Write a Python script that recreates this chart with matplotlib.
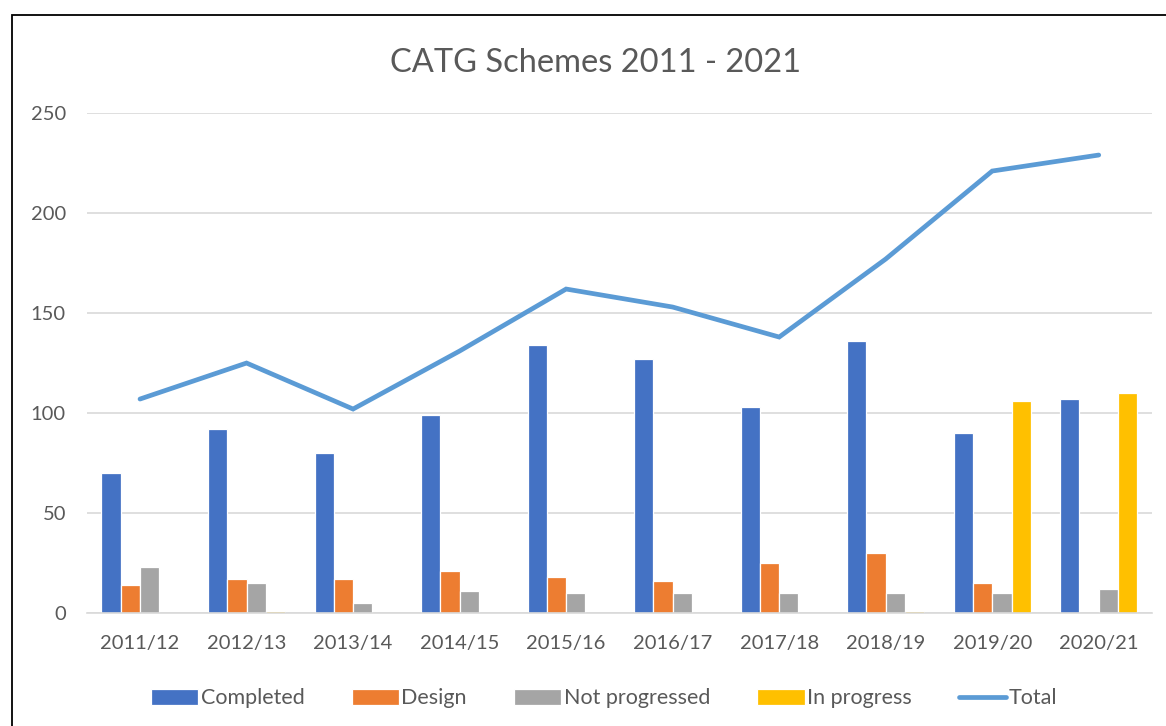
import numpy as np
import matplotlib
matplotlib.use("Agg")
import matplotlib.pyplot as plt
from matplotlib.patches import Rectangle

plt.rcParams['font.family'] = ['Lato', 'DejaVu Sans']

years = ['2011/12', '2012/13', '2013/14', '2014/15', '2015/16',
         '2016/17', '2017/18', '2018/19', '2019/20', '2020/21']
completed = [70, 92, 80, 99, 134, 127, 103, 136, 90, 107]
design = [14, 17, 17, 21, 18, 16, 25, 30, 15, 0]
not_progressed = [23, 15, 5, 11, 10, 10, 10, 10, 10, 12]
in_progress = [0, 1, 0, 0, 0, 0, 0, 1, 106, 110]
total = [107, 125, 102, 131, 162, 153, 138, 177, 221, 229]

series = [('Completed', completed, '#4472c4'),
          ('Design', design, '#ed7d31'),
          ('Not progressed', not_progressed, '#a5a5a5'),
          ('In progress', in_progress, '#ffc000')]

text_col = '#595959'
grid_col = '#d9d9d9'

fig = plt.figure(figsize=(11.66, 7.26), dpi=100)
ax = fig.add_axes([0.0744, 0.1556, 0.9136, 0.6887])

x = np.arange(len(years))
pitch = 0.181
handles = []
for i, (name, vals, col) in enumerate(series):
    b = ax.bar(x + (i - 1.5) * pitch, vals, width=pitch, color=col,
               edgecolor='white', linewidth=0.9, label=name, zorder=2)
    handles.append(b)

ln, = ax.plot(x, total, color='#5b9bd5', linewidth=3.4, solid_capstyle='round',
              solid_joinstyle='miter', label='Total', zorder=3)
handles.append(ln)

ax.set_xlim(-0.5, len(years) - 0.5)
ax.set_ylim(0, 250)
ax.set_yticks(range(0, 251, 50))
ax.set_xticks(x)
ax.set_xticklabels(years)
ax.tick_params(length=0, labelsize=14.5, colors=text_col)
ax.tick_params(axis='y', pad=15)
ax.tick_params(axis='x', pad=16)
ax.yaxis.grid(True, color=grid_col, linewidth=1.2, zorder=0)
ax.set_axisbelow(True)
for s in ['top', 'right', 'left']:
    ax.spines[s].set_visible(False)
ax.spines['bottom'].set_color(grid_col)
ax.spines['bottom'].set_linewidth(1.2)

fig.text(0.511, 0.913, 'CATG Schemes 2011 - 2021', ha='center', va='center',
         fontsize=23.5, color=text_col)

fig.legend(handles=handles, labels=[h.get_label() for h in handles],
           loc='center', bbox_to_anchor=(0.518, 0.038), ncol=5, frameon=False,
           fontsize=15.5, labelcolor=text_col, handlelength=2.2,
           handleheight=0.8, handletextpad=0.1, columnspacing=2.2)

# outer chart border (cut by the image edge on right and bottom)
fig.patches.append(Rectangle((0.0103, -0.05), 1.1, 1.029, transform=fig.transFigure,
                             fill=False, edgecolor='black', linewidth=1.3))

fig.savefig('out.png', dpi=100)
